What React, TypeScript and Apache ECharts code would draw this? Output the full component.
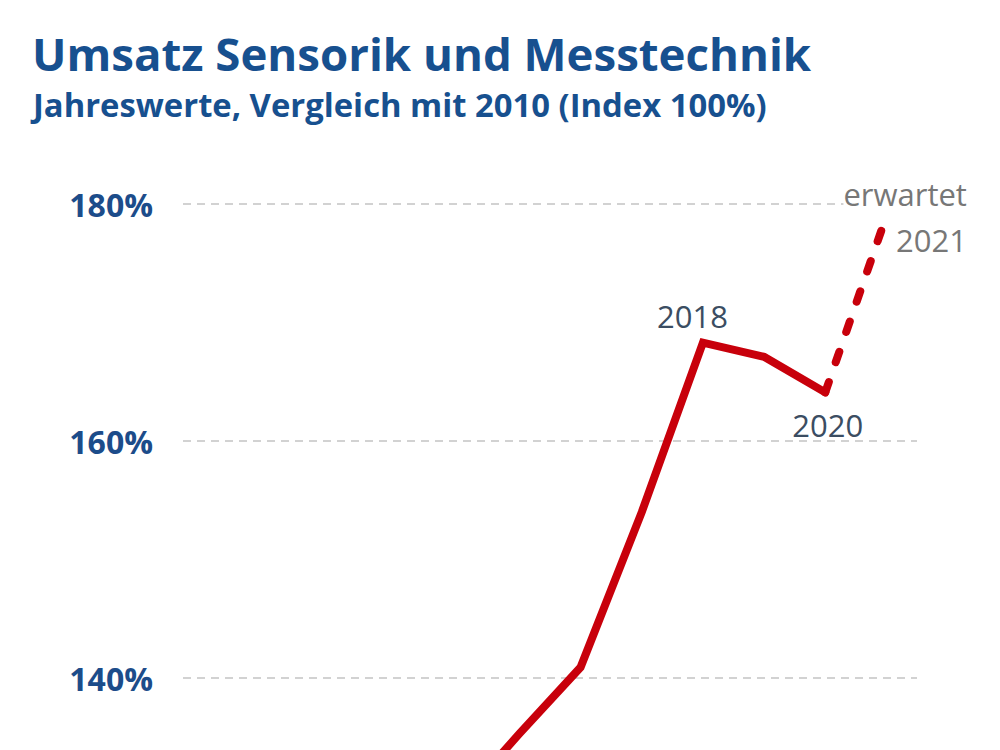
import React, { useEffect, useRef } from "react";
import * as echarts from "echarts";

// Years on the category axis (index base 2010 = 100 %)
const years = ["2010", "2011", "2012", "2013", "2014", "2015", "2016", "2017", "2018", "2019", "2020", "2021"];

// Reported revenue index, in percent of 2010
const revenueIndex: (number | null)[] = [null, null, null, null, 129.5, 135.3, 140.9, 154.0, 168.3, 167.1, 164.1, null];

// Forecast segment, from the last reported year to the expected value
const forecastIndex: (number | null)[] = [null, null, null, null, null, null, null, null, null, null, 164.1, 179.0];

// Value axis ticks
const yMin = 100;
const yMax = 180;
const yStep = 20;
// Tick values that get a label (the lower part of the axis is outside the page)
const yLabelledTicks = [140, 160, 180];

// Years that carry a label on the reported line
const labelAbove = ["2018"];
const labelBelow = ["2020"];

const FONT = "'Open Sans', 'Noto Sans', sans-serif";
const BLUE = "#17508f";
const RED = "#c8000b";

export default function App() {
  const ref = useRef<HTMLDivElement>(null);

  useEffect(() => {
    if (!ref.current) return;
    const chart = echarts.init(ref.current, null, { renderer: "svg" });

    const yearLabel = {
      show: true,
      formatter: "{b}",
      fontFamily: FONT,
      fontSize: 31,
      color: "#3b4d62",
      align: "center",
      verticalAlign: "middle",
    };

    const reportedData = revenueIndex.map((v, i) => {
      if (v == null) return "-";
      if (labelAbove.includes(years[i])) {
        return { value: v, label: { ...yearLabel, position: [-10, -26] } };
      }
      if (labelBelow.includes(years[i])) {
        return { value: v, label: { ...yearLabel, position: [3, 33] } };
      }
      return v;
    });

    const lastIdx = forecastIndex.length - 1;
    const forecastData = forecastIndex.map((v, i) => {
      if (v == null) return "-";
      if (i === lastIdx) {
        return {
          value: v,
          label: {
            show: true,
            position: [81, 2],
            align: "right",
            verticalAlign: "middle",
            formatter: (p: any) => `{note|erwartet}\n{yr|${p.name}}`,
            rich: {
              note: {
                fontFamily: FONT,
                fontSize: 31,
                color: "#777777",
                lineHeight: 46,
                backgroundColor: "#ffffff",
                align: "right",
              },
              yr: {
                fontFamily: FONT,
                fontSize: 31,
                color: "#777777",
                lineHeight: 46,
                align: "right",
              },
            },
          },
        };
      }
      return v;
    });

    chart.setOption({
      animation: false,
      backgroundColor: "#ffffff",
      title: [
        {
          text: "Umsatz Sensorik und Messtechnik",
          left: 27,
          top: 25,
          textStyle: { fontFamily: FONT, fontSize: 45.6, fontWeight: "bold", color: BLUE, lineHeight: 46 },
        },
        {
          text: "Jahreswerte, Vergleich mit 2010 (Index 100%)",
          left: 28,
          top: 83,
          textStyle: { fontFamily: FONT, fontSize: 32.8, fontWeight: "bold", color: BLUE, lineHeight: 33 },
        },
      ],
      // The plot area runs below the visible page: only the upper part of the index is shown
      grid: { left: 183, top: 204, width: 734, height: 948, outerBoundsMode: "none", containLabel: false },
      xAxis: {
        type: "category",
        data: years,
        boundaryGap: true,
        show: false,
      },
      yAxis: {
        type: "value",
        min: yMin,
        max: yMax,
        interval: yStep,
        axisLine: { show: false },
        axisTick: { show: false },
        axisLabel: {
          formatter: (v: number) => (yLabelledTicks.includes(v) ? `${v}%` : ""),
          margin: 30,
          fontFamily: FONT,
          fontSize: 32,
          fontWeight: "bold",
          color: "#1c4c8a",
        },
        splitLine: {
          lineStyle: { color: "#c4c4c4", width: 1.5, type: [8, 6] },
        },
      },
      series: [
        {
          name: "Umsatz",
          type: "line",
          data: reportedData,
          symbol: "circle",
          symbolSize: 1,
          showSymbol: true,
          itemStyle: { color: "rgba(0,0,0,0)" },
          lineStyle: { color: RED, width: 8, join: "miter", cap: "round" },
          z: 3,
        },
        {
          name: "Prognose",
          type: "line",
          data: forecastData,
          symbol: "circle",
          symbolSize: 1,
          showSymbol: true,
          itemStyle: { color: "rgba(0,0,0,0)" },
          lineStyle: { color: RED, width: 8, type: [11, 21], cap: "round" },
          z: 3,
        },
      ],
    });

    return () => chart.dispose();
  }, []);

  return (
    <div
      ref={ref}
      style={{ position: "fixed", left: 0, top: 0, width: 1000, height: 750, background: "#ffffff" }}
    />
  );
}
